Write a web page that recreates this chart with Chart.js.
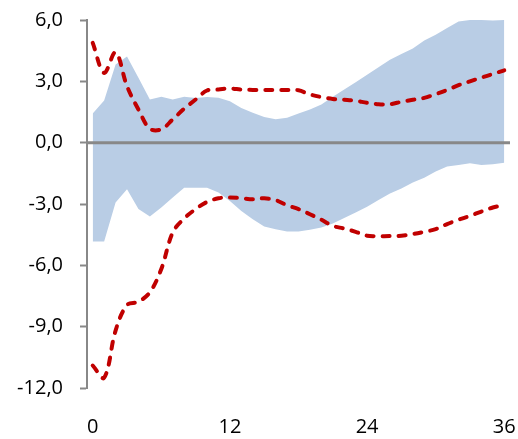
<!DOCTYPE html>
<html>
<head>
<meta charset="utf-8">
<script src="https://cdn.jsdelivr.net/npm/chart.js@4/dist/chart.umd.min.js"></script>
<style>
  html, body { margin: 0; padding: 0; background: #ffffff; }
  #wrap { width: 518px; height: 439px; }
</style>
</head>
<body>
<div id="wrap"><canvas id="chart" width="518" height="439"></canvas></div>
<script>
// Horizon (months) 0..36
const horizons = Array.from({ length: 37 }, (_, i) => String(i));

// Shaded confidence band: upper and lower bounds
const bandUpper = [1.43, 2.06, 3.82, 4.22, 3.17, 2.11, 2.24, 2.11, 2.24, 2.18, 2.23, 2.2, 2.03,
  1.7, 1.46, 1.25, 1.14, 1.22, 1.43, 1.62, 1.87, 2.24, 2.6, 2.96, 3.32, 3.69, 4.06, 4.34, 4.6,
  5.0, 5.28, 5.61, 5.93, 6.0, 6.0, 5.97, 6.0];
const bandLower = [-4.83, -4.83, -2.93, -2.28, -3.25, -3.61, -3.17, -2.68, -2.2, -2.2, -2.2, -2.44,
  -2.85, -3.34, -3.74, -4.1, -4.23, -4.34, -4.34, -4.26, -4.15, -3.95, -3.69, -3.41, -3.14, -2.81,
  -2.49, -2.24, -1.95, -1.71, -1.41, -1.17, -1.09, -1.01, -1.09, -1.05, -0.98];

// Dashed bounds
const dashUpper = [4.88, 3.41, 4.42, 2.76, 1.62, 0.68, 0.65, 1.14, 1.66, 2.11, 2.55, 2.6, 2.65,
  2.6, 2.58, 2.58, 2.58, 2.58, 2.56, 2.36, 2.23, 2.14, 2.1, 2.05, 1.95, 1.88, 1.88, 2.0, 2.1,
  2.19, 2.37, 2.58, 2.81, 3.0, 3.18, 3.36, 3.54];
const dashLower = [-10.9, -11.5, -9.19, -7.94, -7.78, -7.32, -6.18, -4.39, -3.71, -3.25, -2.9,
  -2.72, -2.68, -2.72, -2.77, -2.72, -2.81, -3.06, -3.25, -3.5, -3.77, -4.07, -4.2, -4.36, -4.55,
  -4.57, -4.57, -4.55, -4.47, -4.36, -4.23, -3.98, -3.77, -3.58, -3.37, -3.17, -3.06];

// Axis settings
const yTicks = [-12, -9, -6, -3, 0, 3, 6];
const xLabelEvery = 12;

const FONT = { family: "'Open Sans', 'DejaVu Sans', sans-serif", size: 20 };
const AXIS_GREY = '#888888';
const BAND_BLUE = '#B9CDE5';
const DASH_RED = '#C00000';

// Horizontal zero line drawn over the shaded band
const zeroLine = {
  id: 'zeroLine',
  afterDatasetsDraw(chart) {
    const { ctx, chartArea, scales } = chart;
    const y = scales.y.getPixelForValue(0);
    ctx.save();
    ctx.strokeStyle = AXIS_GREY;
    ctx.lineWidth = 3;
    ctx.beginPath();
    ctx.moveTo(chartArea.left, y);
    ctx.lineTo(chartArea.right, y);
    ctx.stroke();
    ctx.restore();
  }
};

const dashStyle = {
  borderColor: DASH_RED,
  borderWidth: 4,
  borderDash: [7, 9],
  borderCapStyle: 'round',
  borderJoinStyle: 'round',
  pointRadius: 0,
  tension: 0.35,
  fill: false
};

// keep the plot area fixed: no extra room reserved for overhanging labels
function noLabelPadding(scale) {
  scale.paddingLeft = 0;
  scale.paddingRight = 0;
  scale.paddingTop = 0;
  scale.paddingBottom = 0;
}

new Chart(document.getElementById('chart'), {
  type: 'line',
  data: {
    labels: horizons,
    datasets: [
      { ...dashStyle, label: 'upper', data: dashUpper, order: 0 },
      { ...dashStyle, label: 'lower', data: dashLower, order: 0 },
      {
        label: 'band-upper', data: bandUpper, order: 2,
        borderWidth: 0, borderColor: 'rgba(0,0,0,0)', pointRadius: 0, tension: 0,
        backgroundColor: BAND_BLUE, fill: '+1'
      },
      {
        label: 'band-lower', data: bandLower, order: 3,
        borderWidth: 0, borderColor: 'rgba(0,0,0,0)', pointRadius: 0, tension: 0,
        fill: false
      }
    ]
  },
  options: {
    responsive: false,
    animation: false,
    events: [],
    layout: { padding: { top: 20, right: 8, bottom: 0, left: 0 } },
    plugins: {
      legend: { display: false },
      tooltip: { enabled: false },
      filler: { drawTime: 'beforeDatasetsDraw' }
    },
    scales: {
      x: {
        type: 'category',
        offset: true,
        afterFit(scale) { noLabelPadding(scale); scale.height = 51; },
        grid: { display: false, drawTicks: false },
        border: { display: false },
        ticks: {
          autoSkip: false,
          maxRotation: 0,
          padding: 27,
          color: '#000000',
          font: FONT,
          callback(value) {
            const v = Number(this.getLabelForValue(value));
            return v % xLabelEvery === 0 ? String(v) : '';
          }
        }
      },
      y: {
        min: -12,
        max: 6,
        afterFit(scale) { noLabelPadding(scale); scale.width = 87; },
        afterBuildTicks(scale) { scale.ticks = yTicks.map(v => ({ value: v })); },
        border: { display: true, color: AXIS_GREY, width: 2 },
        grid: {
          drawOnChartArea: false,
          drawTicks: true,
          tickLength: 7,
          tickWidth: 2,
          tickColor: AXIS_GREY,
          color: AXIS_GREY
        },
        ticks: {
          padding: 17,
          color: '#000000',
          font: FONT,
          callback(value) { return value.toFixed(1).replace('.', ','); }
        }
      }
    }
  },
  plugins: [zeroLine]
});
</script>
</body>
</html>
